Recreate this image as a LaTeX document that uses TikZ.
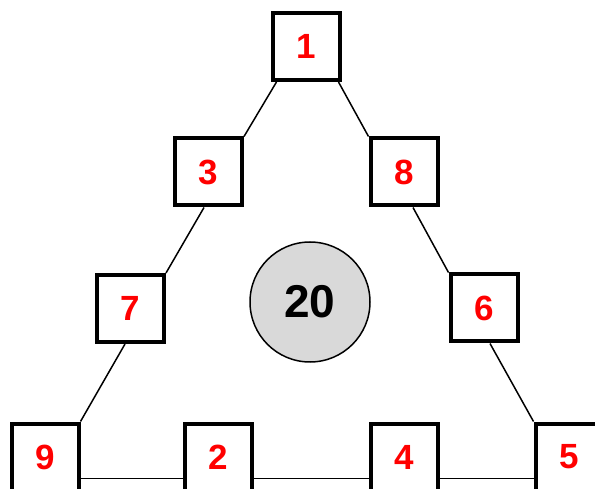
\documentclass[tikz,border=0pt]{standalone}
\usepackage{fontspec}
\setmainfont{Liberation Sans}
\usetikzlibrary{calc}
\definecolor{numred}{RGB}{255,0,0}
\definecolor{discgray}{RGB}{217,217,217}
\tikzset{
  numbox/.style={draw=black, line width=4pt, fill=white, minimum size=67pt, inner sep=0pt,
    font=\fontsize{35}{40}\selectfont\bfseries, text=numred},
  link/.style={draw=black, line width=1.5pt},
  baseline link/.style={draw=black, line width=1.3pt},
  sumdisc/.style={circle, draw=black, line width=1.5pt, fill=discgray, minimum size=120pt, inner sep=0pt,
    font=\fontsize{46}{50}\selectfont\bfseries, text=black}
}
\begin{document}
\begin{tikzpicture}[x=1pt,y=1pt]
\useasboundingbox (0,0) rectangle (595,488);
% boxes (y = 488 - image y)
\node[numbox] (b1) at (306.5,441.5) {1};
\node[numbox] (b3) at (208.5,316) {3};
\node[numbox] (b8) at (404,316) {8};
\node[numbox] (b7) at (130.5,179.5) {7};
\node[numbox] (b6) at (484,180) {6};
\node[numbox] (b9) at (45,31) {9};
\node[numbox] (b2) at (218,31) {2};
\node[numbox] (b4) at (404,31) {4};
\node[numbox] (b5) at (569,31) {5};
\node[sumdisc] (sum) at (310,186) {20};
% side connectors
\draw[link] ($(b1.south west)+(5.5,0)$) -- (b3.north east);
\draw[link] ($(b1.south east)+(-3.5,0)$) -- (b8.north west);
\draw[link] ($(b3.south)+(-4.5,0)$) -- (b7.north east);
\draw[link] ($(b8.south)+(9,0)$) -- (b6.north west);
\draw[link] ($(b7.south)+(-5.5,0)$) -- (b9.north east);
\draw[link] ($(b6.south)+(6,0)$) -- (b5.north west);
% base connectors
\draw[baseline link] ($(b9.east)+(0,-21.5)$) -- ($(b2.west)+(0,-21.5)$);
\draw[baseline link] ($(b2.east)+(0,-21.5)$) -- ($(b4.west)+(0,-21.5)$);
\draw[baseline link] ($(b4.east)+(0,-21.5)$) -- ($(b5.west)+(0,-21.5)$);
\end{tikzpicture}
\end{document}
